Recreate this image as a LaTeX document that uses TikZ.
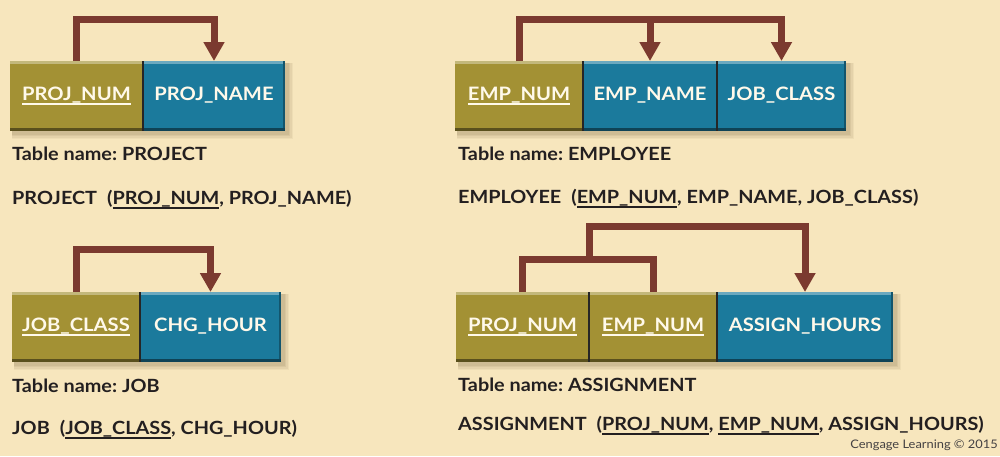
\documentclass[tikz,border=0pt]{standalone}
\usepackage{fontspec}
\setmainfont{Lato}[FakeStretch=1.09]
\usetikzlibrary{arrows.meta,calc,backgrounds}
\definecolor{bg}{HTML}{F7E6BD}
\definecolor{olive}{HTML}{A39134}
\definecolor{teal}{HTML}{1B7A9C}
\definecolor{brick}{HTML}{7B3A2F}
\definecolor{ink}{HTML}{231F20}
\definecolor{shadowc}{HTML}{A8966E}
\definecolor{cream}{HTML}{FFF9EA}
\frenchspacing
\newcommand\ukey[1]{\setbox0\hbox{#1}\rlap{\rule[-4.5pt]{\wd0}{1.3pt}}\box0}
\newcommand\tshadow[2]{%
  \begin{scope}[on background layer]
    \foreach \d/\o in {8/0.10,6.5/0.14,5/0.18,3.5/0.22}{%
      \fill[shadowc,opacity=\o] ([xshift=2pt,yshift=-2pt]#1.north west) rectangle ([xshift=\d pt,yshift=-\d pt]#2.south east);}
  \end{scope}}
\tikzset{
  cell/.style={minimum height=70pt, inner sep=0pt, outer sep=0pt, anchor=north west,
    text=cream, text height=13pt, text depth=5pt,
    font=\bfseries\fontsize{18.5}{20}\selectfont, fill=#1,
    path picture={
      \fill[#1!65!white] (path picture bounding box.north west) rectangle ([yshift=-3pt]path picture bounding box.north east);
      \fill[#1!55!black] (path picture bounding box.south west) rectangle ([yshift=3pt]path picture bounding box.south east);
    }},
  endcell/.style={cell=#1,
    path picture={
      \fill[#1!65!white] (path picture bounding box.north west) rectangle ([yshift=-3pt]path picture bounding box.north east);
      \fill[#1!55!black] (path picture bounding box.south west) rectangle ([yshift=3pt]path picture bounding box.south east);
      \fill[#1!70!black] (path picture bounding box.north east) rectangle ([xshift=-2.5pt,yshift=3pt]path picture bounding box.south east);
    }},
  divider/.style={draw=black!85, line width=1.6pt},
  link/.style={draw=brick, line width=7pt},
  arrowlink/.style={link, -{Triangle[width=20pt,length=19pt]}},
  caption/.style={anchor=base west, inner sep=0pt, text=ink, font=\bfseries\fontsize{18.2}{20}\selectfont},
  credit/.style={anchor=base east, inner sep=0pt, text=ink!85, font=\fontsize{11.8}{13}\selectfont},
}
\begin{document}
\begin{tikzpicture}[x=1pt,y=-1pt]
\begin{scope}[on background layer]
\fill[bg] (0,0) rectangle (1000,456);
\end{scope}
\useasboundingbox (0,0) rectangle (1000,456);

% ---------- PROJECT ----------
\node[cell=olive, minimum width=133pt] (pn) at (10,61) {\ukey{PROJ\_NUM}};
\node[endcell=teal, minimum width=142pt] (pname) at (pn.north east) {PROJ\_NAME};
\draw[divider] (pn.north east) -- (pn.south east);
\tshadow{pn}{pname}
\draw[arrowlink] (pn.north) -- ++(0,-42) -| (pname.north);
\node[caption] (pcap) at (12,160) {Table name: PROJECT};
\node[caption] (prel) at (12,204) {PROJECT\hspace{0.55em}(\ukey{PROJ\_NUM}, PROJ\_NAME)};

% ---------- JOB ----------
\node[cell=olive, minimum width=128pt] (jcl) at (12,292) {\ukey{JOB\_CLASS}};
\node[endcell=teal, minimum width=141pt] (chg) at (jcl.north east) {CHG\_HOUR};
\draw[divider] (jcl.north east) -- (jcl.south east);
\tshadow{jcl}{chg}
\draw[arrowlink] (jcl.north) -- ++(0,-43) -| (chg.north);
\node[caption] (jcap) at (12,392) {Table name: JOB};
\node[caption] (jrel) at (12,434) {JOB\hspace{0.55em}(\ukey{JOB\_CLASS}, CHG\_HOUR)};

% ---------- EMPLOYEE ----------
\node[cell=olive, minimum width=128pt] (en) at (455,61) {\ukey{EMP\_NUM}};
\node[cell=teal, minimum width=134pt] (ename) at (en.north east) {EMP\_NAME};
\node[endcell=teal, minimum width=129pt] (ejc) at (ename.north east) {JOB\_CLASS};
\draw[divider] (en.north east) -- (en.south east);
\draw[divider] (ename.north east) -- (ename.south east);
\tshadow{en}{ejc}
\draw[arrowlink] (en.north) -- ++(0,-42) -| (ename.north);
\draw[arrowlink] (en.north) -- ++(0,-42) -| (ejc.north);
\node[caption] (ecap) at (458,160) {Table name: EMPLOYEE};
\node[caption] (erel) at (458,203) {EMPLOYEE\hspace{0.55em}(\ukey{EMP\_NUM}, EMP\_NAME, JOB\_CLASS)};

% ---------- ASSIGNMENT ----------
\node[cell=olive, minimum width=133pt] (apn) at (456,292) {\ukey{PROJ\_NUM}};
\node[cell=olive, minimum width=128pt] (aen) at (apn.north east) {\ukey{EMP\_NUM}};
\node[endcell=teal, minimum width=176pt] (ah) at (aen.north east) {ASSIGN\_HOURS};
\draw[divider] (apn.north east) -- (apn.south east);
\draw[divider] (aen.north east) -- (aen.south east);
\tshadow{apn}{ah}
\draw[link] (apn.north) -- ++(0,-33) coordinate (jl) -| (aen.north);
\coordinate (jm) at (apn.north east |- jl);
\draw[arrowlink] (jm) -- ++(0,-33) -| (ah.north);
\node[caption] (acap) at (458,391) {Table name: ASSIGNMENT};
\node[caption] (arel) at (458,430) {ASSIGNMENT\hspace{0.55em}(\ukey{PROJ\_NUM}, \ukey{EMP\_NUM}, ASSIGN\_HOURS)};

\node[credit] (cr) at (998,448) {Cengage Learning © 2015};
\end{tikzpicture}
\end{document}
